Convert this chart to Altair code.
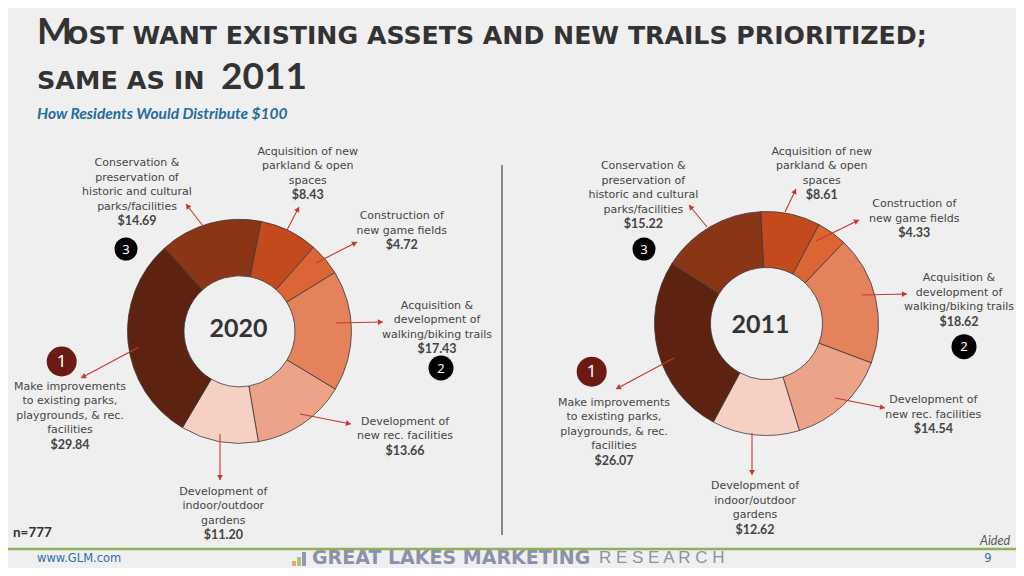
import math
import altair as alt
import pandas as pd

# ---------------- data ----------------
keys = ["parkland", "game", "trails", "rec", "gardens", "improve", "conserve"]
categories = [
    "Acquisition of new parkland & open spaces",
    "Construction of new game fields",
    "Acquisition & development of walking/biking trails",
    "Development of new rec. facilities",
    "Development of indoor/outdoor gardens",
    "Make improvements to existing parks, playgrounds, & rec. facilities",
    "Conservation & preservation of historic and cultural parks/facilities",
]
values_2020 = [8.43, 4.72, 17.43, 13.66, 11.20, 29.84, 14.69]
values_2011 = [8.61, 4.33, 18.62, 14.54, 12.62, 26.07, 15.22]
label_lines = {
    "parkland": ["Acquisition of new", "parkland & open", "spaces"],
    "game": ["Construction of", "new game fields"],
    "trails": ["Acquisition &", "development of", "walking/biking trails"],
    "rec": ["Development of", "new rec. facilities"],
    "gardens": ["Development of", "indoor/outdoor", "gardens"],
    "improve": ["Make improvements", "to existing parks,", "playgrounds, & rec.", "facilities"],
    "conserve": ["Conservation &", "preservation of", "historic and cultural", "parks/facilities"],
}
ranks = {"improve": "1", "trails": "2", "conserve": "3"}
years = ["2020", "2011"]
sample_note = "n=777"

# ---------------- styling / layout ----------------
colors = ["#C24A1C", "#DC6535", "#E4825B", "#EDA388", "#F6D0C4", "#5E2210", "#8B3517"]
BG = "#EFEFEF"
TXT = "#454545"
RED = "#C8372D"

donuts = {
    "2020": dict(cx=239.5, cy=331.3, R=112, r=55.5, start=11.0),
    "2011": dict(cx=766.5, cy=323.5, R=112, r=56, start=357.0),
}
year_text_pos = {"2020": (238.5, 329), "2011": (760.5, 325)}
label_pos = {
    "2020": {"conserve": (137, 163), "parkland": (307.7, 151.7), "game": (401.7, 216),
             "trails": (437, 305.7), "rec": (405, 421.7), "gardens": (223.3, 491.7),
             "improve": (70, 386.7)},
    "2011": {"conserve": (643.3, 166), "parkland": (821.7, 151.7), "game": (914.3, 204),
             "trails": (959, 278.3), "rec": (933.3, 400), "gardens": (755, 486),
             "improve": (614, 402.7)},
}
arrows = {
    "2020": {"conserve": ((203, 226), (186, 204)), "parkland": ((287, 230), (299, 207)),
             "game": ((316, 263), (357, 242)), "trails": ((336, 323), (383, 322)),
             "rec": ((300, 414), (351, 424)), "gardens": ((220, 434), (220, 480)),
             "improve": ((139, 347), (81, 378))},
    "2011": {"conserve": ((707, 227), (689, 205)), "parkland": ((785, 212), (796, 189)),
             "game": ((816, 241), (859, 220)), "trails": ((862, 295), (907, 294)),
             "rec": ((835, 398), (885, 408)), "gardens": ((752, 433), (752, 475)),
             "improve": ((674, 358), (616, 389))},
}
badges = {
    "2020": {"1": (61.7, 361.5, 30), "2": (441, 368, 25), "3": (126, 249, 23)},
    "2011": {"1": (591.7, 371.7, 30), "2": (964, 346.7, 25), "3": (644, 249, 23)},
}
LH = 14.5

xs = alt.Scale(domain=[8, 1016], nice=False, zero=False)
ys = alt.Scale(domain=[8, 568], nice=False, zero=False, reverse=True)


def X(f="x"):
    return alt.X(f + ":Q", scale=xs, axis=None)


def Y(f="y"):
    return alt.Y(f + ":Q", scale=ys, axis=None)


color_scale = alt.Scale(domain=categories, range=colors)

layers = []

# decorative rules: footer line, divider
rules_df = pd.DataFrame([
    dict(x=0, x2=1024, y=549, y2=549, c="#8DB359", w=2.5),
    dict(x=502, x2=502, y=165, y2=535, c="#666666", w=1.5),
])
layers.append(alt.Chart(rules_df).mark_rule().encode(
    x=X(), x2="x2:Q", y=Y(), y2="y2:Q",
    color=alt.Color("c:N", scale=None), strokeWidth=alt.StrokeWidth("w:Q", scale=None)))

# donuts
for yr, vals in zip(years, [values_2020, values_2011]):
    d = donuts[yr]
    df = pd.DataFrame({"cat": categories, "value": vals, "idx": list(range(len(vals)))})
    st = math.radians(d["start"])
    layers.append(alt.Chart(df).mark_arc(
        radius=d["R"], radius2=d["r"], stroke="#3a3a3a", strokeWidth=0.8
    ).encode(
        theta=alt.Theta("value:Q", stack=True, scale=alt.Scale(range=[st, st + 2 * math.pi])),
        color=alt.Color("cat:N", scale=color_scale, legend=None),
        order=alt.Order("idx:Q"),
        x=alt.value(d["cx"] - 8), y=alt.value(d["cy"] - 8),
    ))

# arrows
arow, heads = [], []
for yr in years:
    for k in keys:
        (x1, y1), (x2, y2) = arrows[yr][k]
        arow.append(dict(x=x1, y=y1, x2=x2, y2=y2))
        dx, dy = x2 - x1, y2 - y1
        L = math.hypot(dx, dy)
        ang = math.degrees(math.atan2(dx, -dy)) % 360
        heads.append(dict(x=x2 - dx / L * 2.5, y=y2 - dy / L * 2.5, ang=ang))
layers.append(alt.Chart(pd.DataFrame(arow)).mark_rule(color=RED, strokeWidth=1.1).encode(
    x=X(), x2="x2:Q", y=Y(), y2="y2:Q"))
layers.append(alt.Chart(pd.DataFrame(heads)).mark_point(
    shape="triangle-up", filled=True, color=RED, opacity=1, size=34, strokeWidth=0
).encode(x=X(), y=Y(), angle=alt.Angle("ang:Q", scale=None)))

# labels
lines, vals_rows = [], []
for yr, vals in zip(years, [values_2020, values_2011]):
    for k, v in zip(keys, vals):
        x0, y0 = label_pos[yr][k]
        ls = label_lines[k]
        for i, t in enumerate(ls):
            lines.append(dict(x=x0, y=y0 + i * LH, t=t))
        vals_rows.append(dict(x=x0, y=y0 + len(ls) * LH, v=v))
layers.append(alt.Chart(pd.DataFrame(lines)).mark_text(
    font="DejaVu Sans", fontSize=11, color=TXT, baseline="middle", align="center"
).encode(x=X(), y=Y(), text="t:N"))
layers.append(alt.Chart(pd.DataFrame(vals_rows)).mark_text(
    font="Lato", fontWeight="bold", fontSize=12.5, color=TXT, baseline="middle", align="center"
).encode(x=X(), y=Y(), text=alt.Text("v:Q", format="$.2f")))

# year in centre
ydf = pd.DataFrame([dict(x=year_text_pos[y][0], y=year_text_pos[y][1], t=y) for y in years])
layers.append(alt.Chart(ydf).mark_text(
    font="Lato", fontWeight="bold", fontSize=25, color="#333333", baseline="middle", align="center"
).encode(x=X(), y=Y(), text="t:N"))

# rank badges
brow = []
for yr in years:
    for num, (bx, by, dia) in badges[yr].items():
        brow.append(dict(x=bx, y=by, s=dia * dia, t=num,
                         c="#6B1B14" if num == "1" else "#000000",
                         fs=17 if num == "1" else 13))
bdf = pd.DataFrame(brow)
layers.append(alt.Chart(bdf).mark_point(shape="circle", filled=True, opacity=1, strokeWidth=0).encode(
    x=X(), y=Y(), size=alt.Size("s:Q", scale=None), color=alt.Color("c:N", scale=None)))
layers.append(alt.Chart(bdf).mark_text(font="Noto Sans", color="white", baseline="middle", align="center", dy=0.5).encode(
    x=X(), y=Y(), text="t:N", size=alt.Size("fs:Q", scale=None)))

# free texts
def txt(x, y, t, **kw):
    base = dict(baseline="middle", align="left")
    base.update(kw)
    return alt.Chart(pd.DataFrame([dict(x=x, y=y, t=t)])).mark_text(**base).encode(
        x=X(), y=Y(), text="t:N")

layers += [
    txt(37, 44, "M", font="Lato", fontWeight="bold", fontSize=37, color="#333333", baseline="alphabetic"),
    txt(67, 44, "OST WANT EXISTING ASSETS AND NEW TRAILS PRIORITIZED;", font="DejaVu Sans",
        fontWeight="bold", fontSize=25.2, color="#333333", baseline="alphabetic"),
    txt(37, 89, "SAME AS IN", font="DejaVu Sans", fontWeight="bold", fontSize=25.5, color="#333333",
        baseline="alphabetic"),
    txt(221, 89, "2011", font="Lato", fontWeight="bold", fontSize=37, color="#333333", baseline="alphabetic"),
    txt(37, 114, "How Residents Would Distribute $100", font="Lato", fontWeight="bold",
        fontStyle="italic", fontSize=15.5, color="#236C9E"),
    txt(13, 533, sample_note, font="Lato", fontWeight="bold", fontSize=13.5, color="#333333"),
    txt(1010, 541, "Aided", font="Lato", fontStyle="italic", fontSize=12.5, color="#555555", align="right"),
    txt(37, 559, "www.GLM.com", font="DejaVu Sans", fontSize=11.5, color="#2F6EA5"),
    txt(988, 559, "9", font="DejaVu Sans", fontSize=11.5, color="#2F6EA5", align="center"),
    txt(312, 558, "GREAT LAKES MARKETING", font="DejaVu Sans", fontWeight="bold",
        fontSize=19, color="#8A92A6"),
    txt(599, 558, "R E S E A R C H", font="Liberation Sans", fontSize=17, color="#8A92A6"),
]

# logo icon bars
icon = pd.DataFrame([
    dict(x=292, x2=296, y=561, y2=566, c="#E8A86A"),
    dict(x=297, x2=301, y=557, y2=566, c="#A9C77A"),
    dict(x=302, x2=306, y=552, y2=566, c="#8F9BB3"),
])
layers.append(alt.Chart(icon).mark_rect().encode(
    x=X(), x2="x2:Q", y=Y(), y2="y2:Q", color=alt.Color("c:N", scale=None)))

chart = alt.layer(*layers).resolve_scale(theta="independent").properties(
    width=1008, height=560, background=BG, padding=0, autosize=alt.AutoSizeParams(type="none")
).configure_view(stroke=None)

chart.save("out.html", embed_options={"renderer": "svg", "actions": False})
